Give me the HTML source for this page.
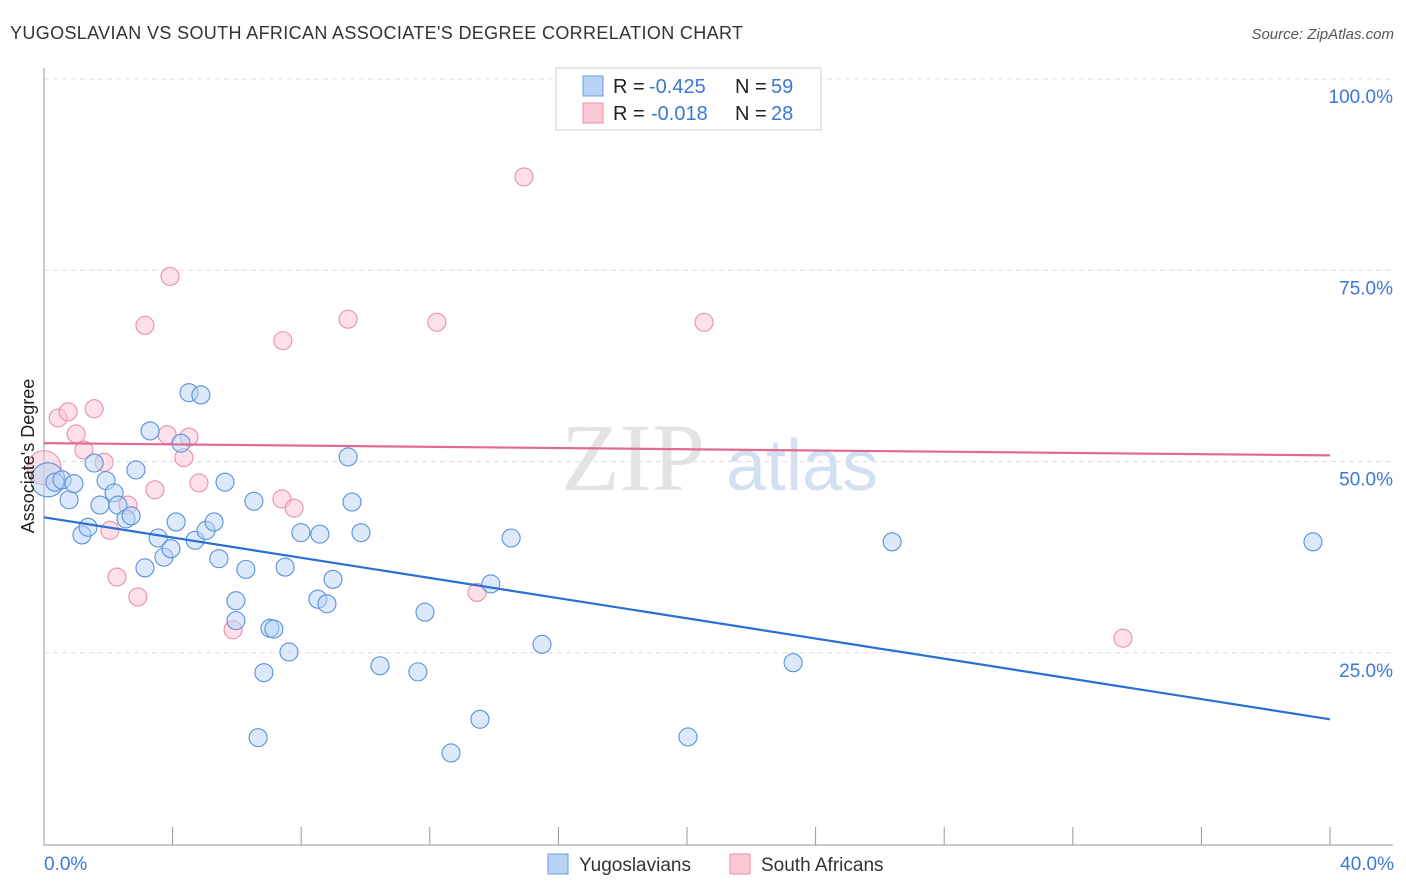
<!DOCTYPE html>
<html><head><meta charset="utf-8"><style>
body{margin:0;background:#fff;font-family:"Liberation Sans",sans-serif}
svg{display:block}
</style></head><body>
<svg width="1406" height="892" id="chart">
<text x="10" y="39" font-size="18" fill="#333" textLength="733">YUGOSLAVIAN VS SOUTH AFRICAN ASSOCIATE'S DEGREE CORRELATION CHART</text>
<text x="1394" y="39" font-size="15" fill="#555" font-style="italic" text-anchor="end">Source: ZipAtlas.com</text>
<g><text x="633" y="490" font-size="96" fill="#ddd" font-family="Liberation Serif" text-anchor="middle" opacity="0.8">ZIP</text><text x="802" y="490" font-size="72" fill="#c9d9f0" text-anchor="middle" opacity="0.8">atlas</text></g>
<g id="grid"></g><g id="axes"></g><g id="marks"></g>
<text transform="translate(34,456) rotate(-90)" font-size="18" fill="#222" text-anchor="middle">Associate's Degree</text>
<text x="44" y="870" font-size="19" fill="#3a78d8">0.0%</text>
<text x="1394" y="870" font-size="19" fill="#3a78d8" text-anchor="end">40.0%</text>
<g>
<rect x="556" y="68" width="265" height="62" fill="#fff" stroke="#ccc"/>
<rect x="583" y="76" width="20" height="20" fill="#b8d3f5" stroke="#6a9ee0"/>
<rect x="583" y="103" width="20" height="20" fill="#fbc8d6" stroke="#e890aa"/>
<text x="613" y="93" font-size="20" fill="#222">R =</text><text x="649" y="93" font-size="20" fill="#3a78d8">-0.425</text>
<text x="735" y="93" font-size="20" fill="#222">N =</text><text x="771" y="93" font-size="20" fill="#3a78d8">59</text>
<text x="613" y="120" font-size="20" fill="#222">R =</text><text x="651" y="120" font-size="20" fill="#3a78d8">-0.018</text>
<text x="735" y="120" font-size="20" fill="#222">N =</text><text x="771" y="120" font-size="20" fill="#3a78d8">28</text>
</g>
<g>
<rect x="548" y="854" width="20" height="20" fill="#b8d3f5" stroke="#6a9ee0"/>
<text x="579" y="871" font-size="19" fill="#333">Yugoslavians</text>
<rect x="730" y="854" width="20" height="20" fill="#fbc8d6" stroke="#e890aa"/>
<text x="761" y="871" font-size="19" fill="#333">South Africans</text>
</g>
</svg>
<script>
const yTicks=[25,50,75,100];
const yTickLabels=["25.0%","50.0%","75.0%","100.0%"];
const blueX=[0.12,0.34,0.56,0.78,0.93,1.18,1.37,1.56,1.74,1.93,2.18,2.30,2.55,2.71,2.86,3.14,3.30,3.55,3.73,3.95,4.11,4.26,4.51,4.70,4.88,5.04,5.29,5.44,5.63,5.97,5.97,6.28,6.53,6.66,6.84,7.03,7.15,7.50,7.62,7.99,8.52,8.58,8.80,8.99,9.46,9.58,9.86,10.45,11.63,11.85,12.66,13.56,13.90,14.53,15.49,20.03,23.30,26.38,39.47];
const blueY=[47.6,47.3,47.6,45.0,47.1,40.4,41.4,49.8,44.3,47.5,45.9,44.3,42.5,42.9,48.9,36.1,54.0,40.0,37.5,38.6,42.1,52.4,59.0,39.7,58.7,41.0,42.1,37.3,47.3,29.2,31.8,35.9,44.8,13.9,22.4,28.2,28.1,36.2,25.1,40.7,32.0,40.5,31.4,34.6,50.6,44.7,40.7,23.3,22.5,30.3,11.9,16.3,34.0,40.0,26.1,14.0,23.7,39.5,39.5];
const pinkX=[0.0,0.44,0.75,1.0,1.24,1.56,1.87,2.05,2.27,2.61,2.92,3.14,3.45,3.83,3.92,4.35,4.51,4.82,5.88,7.43,7.40,7.78,9.46,12.22,13.47,14.93,20.53,33.56];
const pinkY=[49.2,55.7,56.5,53.6,51.5,56.9,49.9,41.0,34.9,44.3,32.3,67.8,46.3,53.5,74.2,50.5,53.2,47.2,28.0,65.8,45.1,43.9,68.6,68.2,32.9,87.2,68.2,26.9];
const blueTrend=[42.7,16.3];
const pinkTrend=[52.4,50.8];
const NS='http://www.w3.org/2000/svg';
const X=v=>44+v*32.15, Y=v=>844-v*7.65;
function mk(t,a,p){const e=document.createElementNS(NS,t);for(const k in a)e.setAttribute(k,a[k]);p.appendChild(e);return e;}
const grid=document.getElementById('grid'),axes=document.getElementById('axes'),marks=document.getElementById('marks');
yTicks.forEach((t,i)=>{
 const l=mk('line',{x1:44,x2:1393,y1:Y(t),y2:Y(t),stroke:'#ddd','stroke-dasharray':'5,4'},grid);
 
 
 const tx=mk('text',{x:1393,y:Y(t)+24,'font-size':19,fill:'#3a78d8','text-anchor':'end'},grid);
 tx.textContent=yTickLabels[i];
 
 
});
const ax=mk('line',{x1:44,x2:44,y1:68,y2:845,stroke:'#999'},axes);


const bx=mk('line',{x1:44,x2:1393,y1:845,y2:845,stroke:'#999'},axes);


for(let i=0;i<=10;i++){
 const t=mk('line',{x1:X(i*4),x2:X(i*4),y1:827,y2:845,stroke:'#999'},axes);
 
 
}
function dots(xs,ys,fill,stroke,name){
 xs.forEach((x,i)=>{
  const c=mk('circle',{cx:X(x),cy:Y(ys[i]),r:i===0?17:9,fill:fill,'fill-opacity':0.5,stroke:stroke,'stroke-width':1.1},marks);
  
  
 });
}
dots(pinkX,pinkY,'#fbc2d2','#e890aa','south-african-point');
dots(blueX,blueY,'#b8d3f5','#5b90dc','yugoslavian-point');
const bl=mk('line',{x1:X(0),x2:X(40),y1:Y(blueTrend[0]),y2:Y(blueTrend[1]),stroke:'#2a6fd6','stroke-width':2.2},marks);


const pl=mk('line',{x1:X(0),x2:X(40),y1:Y(pinkTrend[0]),y2:Y(pinkTrend[1]),stroke:'#e06a92','stroke-width':2.2},marks);


</script>
</body></html>
